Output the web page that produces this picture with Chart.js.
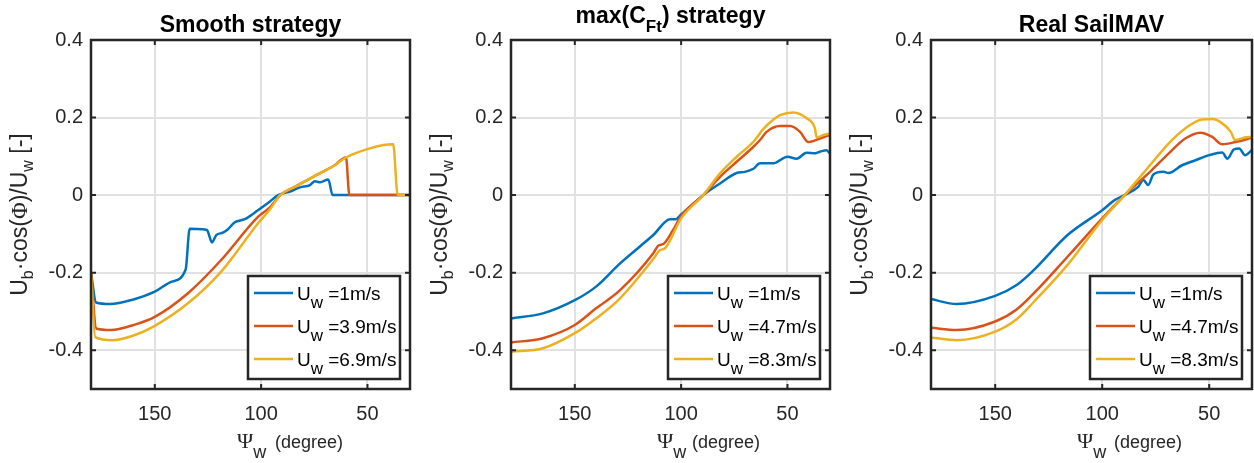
<!DOCTYPE html>
<html>
<head>
<meta charset="utf-8">
<script src="https://cdn.jsdelivr.net/npm/chart.js@4.4.1/dist/chart.umd.min.js"></script>
<style>
  body { margin: 0; background: #fff; }
  canvas { position: absolute; top: 0; }
</style>
</head>
<body>
<canvas id="c1" width="420" height="463" style="left:0px"></canvas>
<canvas id="c2" width="414" height="463" style="left:420px"></canvas>
<canvas id="c3" width="420" height="463" style="left:834px"></canvas>
<script>
// ---- data ----
var xTicks = [150, 100, 50];
var yTicks = [-0.4, -0.2, 0, 0.2, 0.4];

// Smooth strategy
var smoothBlueX = [180, 177.6, 171, 160, 150, 142, 135.5, 133.6, 128, 125.5, 123.1, 121.1, 118, 115.6, 112.4, 107.7, 101.5, 96, 92, 86, 81.7, 77, 74.7, 72.3, 68.4, 66.4, 30];
var smoothBlueY = [-0.2, -0.277, -0.281, -0.269, -0.249, -0.223, -0.192, -0.087, -0.088, -0.090, -0.122, -0.103, -0.097, -0.088, -0.070, -0.062, -0.039, -0.017, 0, 0.010, 0.020, 0.026, 0.036, 0.033, 0.040, 0, 0];
var smoothRedX = [180, 177.5, 170.6, 160, 150, 134.4, 118.9, 101.5, 96, 91, 84, 73.9, 66, 60.1, 58.5, 30];
var smoothRedY = [-0.2, -0.344, -0.348, -0.335, -0.314, -0.253, -0.168, -0.056, -0.032, 0, 0.022, 0.052, 0.075, 0.097, 0, 0];
var smoothYellowX = [180, 178, 169.7, 160, 150, 134.4, 118.9, 101.5, 96, 91, 84, 73.9, 66, 60.1, 50.4, 42.5, 37.9, 35.8, 30];
var smoothYellowY = [-0.2, -0.366, -0.374, -0.362, -0.337, -0.279, -0.198, -0.073, -0.038, 0, 0.022, 0.052, 0.075, 0.097, 0.118, 0.129, 0.131, 0, 0];

// max(C_Ft) strategy
var maxBlueX = [180, 165, 150, 140, 128.7, 113.1, 105.2, 102.5, 100, 89.6, 81.7, 73.9, 70, 66, 62.9, 56.7, 50, 45.7, 41, 37, 34.7, 31.6, 30];
var maxBlueY = [-0.318, -0.305, -0.271, -0.236, -0.176, -0.103, -0.062, -0.062, -0.050, 0, 0.030, 0.057, 0.060, 0.068, 0.082, 0.082, 0.099, 0.094, 0.109, 0.108, 0.112, 0.116, 0.107];
var maxRedX = [180, 165, 150, 140, 128.7, 113.1, 110.7, 108.4, 104, 100, 89.6, 81.7, 73.9, 66.1, 62.9, 59.8, 53.5, 48.8, 44.1, 40.2, 34.7, 30];
var maxRedY = [-0.380, -0.369, -0.335, -0.292, -0.245, -0.150, -0.130, -0.126, -0.092, -0.054, 0, 0.047, 0.086, 0.124, 0.142, 0.163, 0.178, 0.178, 0.163, 0.137, 0.146, 0.155];
var maxYellowX = [180, 165, 150, 140, 128.7, 113.1, 110, 107.6, 100, 89.6, 81.7, 73.9, 66.1, 61.4, 57, 53.5, 47.3, 41, 37.1, 36.3, 33.1, 30];
var maxYellowY = [-0.404, -0.395, -0.356, -0.318, -0.266, -0.165, -0.142, -0.137, -0.060, 0, 0.056, 0.099, 0.137, 0.170, 0.193, 0.206, 0.213, 0.198, 0.172, 0.149, 0.155, 0.159];

// Real SailMAV
var realBlueX = [180, 168, 150, 140, 131.9, 116.2, 100, 94.2, 89.5, 83.2, 80.8, 78.5, 76.1, 71.4, 69, 62.7, 56.4, 50, 43.9, 41.5, 38.4, 36, 33.2, 30];
var realBlueY = [-0.268, -0.281, -0.260, -0.232, -0.193, -0.103, -0.039, -0.013, 0, 0.021, 0.039, 0.026, 0.053, 0.060, 0.057, 0.077, 0.090, 0.103, 0.110, 0.094, 0.118, 0.120, 0.103, 0.116];
var realRedX = [180, 168, 150, 140, 131.9, 116.2, 100, 89.5, 76.9, 69, 61.2, 54.1, 48.6, 43.9, 37.6, 30];
var realRedY = [-0.342, -0.348, -0.326, -0.295, -0.253, -0.159, -0.060, 0, 0.064, 0.107, 0.146, 0.161, 0.150, 0.131, 0.137, 0.148];
var realYellowX = [180, 168, 150, 140, 131.9, 116.2, 100, 89.5, 76.9, 69, 61.2, 53.3, 48.6, 43.9, 39.9, 37.9, 32.9, 30];
var realYellowY = [-0.367, -0.374, -0.352, -0.320, -0.275, -0.180, -0.064, 0, 0.082, 0.133, 0.172, 0.195, 0.196, 0.185, 0.163, 0.142, 0.149, 0.150];

var smoothLabels = ['=1m/s', '=3.9m/s', '=6.9m/s'];
var otherLabels = ['=1m/s', '=4.7m/s', '=8.3m/s'];

var COLORS = ['#0072BD', '#D95319', '#EDB120'];
var AXIS = '#262626';
var SANS = '"Liberation Sans", Arial, Helvetica, sans-serif';
var SERIF = '"Liberation Serif", "Times New Roman", serif';

function pts(xs, ys) {
    return xs.map(function (x, i) { return { x: x, y: ys[i] }; });
}

function richWidth(ctx, parts) {
    var w = 0;
    parts.forEach(function (p) { ctx.font = p.f; w += ctx.measureText(p.t).width; });
    return w;
}

function drawRich(ctx, parts, x, y) {
    parts.forEach(function (p) {
        ctx.font = p.f;
        ctx.fillText(p.t, x, y + (p.dy || 0));
        x += ctx.measureText(p.t).width;
    });
}

// frame, inward ticks, legend, title and axis labels (MATLAB look)
function decoPlugin(cfg) {
    return {
        id: 'deco',
        afterDraw: function (chart) {
            var ctx = chart.ctx;
            var a = chart.chartArea;
            var xs = chart.scales.x, ys = chart.scales.y;
            ctx.save();

            // inward ticks
            ctx.strokeStyle = AXIS;
            ctx.lineWidth = 2;
            ctx.beginPath();
            yTicks.forEach(function (v) {
                var py = ys.getPixelForValue(v);
                ctx.moveTo(a.left, py); ctx.lineTo(a.left + 5, py);
                ctx.moveTo(a.right, py); ctx.lineTo(a.right - 5, py);
            });
            xTicks.forEach(function (v) {
                var px = xs.getPixelForValue(v);
                ctx.moveTo(px, a.bottom); ctx.lineTo(px, a.bottom - 5);
                ctx.moveTo(px, a.top); ctx.lineTo(px, a.top + 5);
            });
            ctx.stroke();
            ctx.lineWidth = 2.5;
            ctx.strokeRect(a.left, a.top, a.right - a.left, a.bottom - a.top);

            // legend
            var lw = 152, lh = 103;
            var lx = a.right - 10 - lw, ly = a.top + 236;
            ctx.fillStyle = '#fff';
            ctx.fillRect(lx, ly, lw, lh);
            ctx.lineWidth = 2.5;
            ctx.strokeStyle = AXIS;
            ctx.strokeRect(lx, ly, lw, lh);
            cfg.labels.forEach(function (lab, i) {
                var ry = ly + 17 + i * 33;
                ctx.strokeStyle = COLORS[i];
                ctx.lineWidth = 2.5;
                ctx.beginPath();
                ctx.moveTo(lx + 6, ry); ctx.lineTo(lx + 45, ry);
                ctx.stroke();
                ctx.fillStyle = '#000';
                ctx.textAlign = 'left';
                ctx.textBaseline = 'alphabetic';
                drawRich(ctx, [
                    { t: 'U', f: '19px ' + SANS },
                    { t: 'w', f: '17px ' + SANS, dy: 8 },
                    { t: ' ' + lab, f: '19px ' + SANS }
                ], lx + 49, ry + 7);
            });

            // title
            ctx.fillStyle = '#000';
            ctx.textAlign = 'left';
            ctx.textBaseline = 'alphabetic';
            var tw = richWidth(ctx, cfg.title);
            drawRich(ctx, cfg.title, (a.left + a.right) / 2 - tw / 2, cfg.titleY);

            // x label
            ctx.fillStyle = AXIS;
            drawRich(ctx, [
                { t: '\u03A8', f: '22px ' + SERIF },
                { t: 'w', f: '18px ' + SANS, dy: 10 }
            ], a.left + 146, 448);
            ctx.font = '18px ' + SANS;
            ctx.fillText('(degree)', a.left + cfg.degGap, 448);

            // y label (rotated)
            var yl = [
                { t: 'U', f: '23px ' + SANS },
                { t: 'b', f: '16px ' + SANS, dy: 6 },
                { t: '\u00B7cos(', f: '23px ' + SANS },
                { t: '\u03A6', f: '23px ' + SERIF },
                { t: ')/U', f: '23px ' + SANS },
                { t: 'w', f: '16px ' + SANS, dy: 6 },
                { t: ' [-]', f: '23px ' + SANS }
            ];
            var yw = richWidth(ctx, yl);
            ctx.translate(a.left - 64, (a.top + a.bottom) / 2);
            ctx.rotate(-Math.PI / 2);
            drawRich(ctx, yl, -yw / 2, 0);

            ctx.restore();
        }
    };
}

function makeChart(id, cfg) {
    var sets = cfg.series.map(function (s, i) {
        return {
            data: pts(s[0], s[1]),
            borderColor: COLORS[i],
            borderWidth: 2.5,
            pointRadius: 0,
            fill: false,
            order: 3 - i,   // later series drawn on top, as in MATLAB
            cubicInterpolationMode: 'monotone'
        };
    });
    return new Chart(document.getElementById(id), {
        type: 'line',
        data: { datasets: sets },
        options: {
            responsive: false,
            animation: false,
            layout: { padding: { top: 40, right: cfg.padRight, left: 0, bottom: 0 } },
            plugins: { legend: { display: false }, tooltip: { enabled: false } },
            scales: {
                x: {
                    type: 'linear', reverse: true, min: 30, max: 180,
                    afterBuildTicks: function (s) { s.ticks = xTicks.map(function (v) { return { value: v }; }); },
                    afterFit: function (s) { s.height = 74; },
                    grid: { color: '#e1e1e1', lineWidth: 2, drawTicks: false },
                    border: { display: false },
                    ticks: { font: { size: 20, family: SANS }, color: AXIS, padding: 13, maxRotation: 0 }
                },
                y: {
                    type: 'linear', min: -0.5, max: 0.4,
                    afterBuildTicks: function (s) { s.ticks = yTicks.map(function (v) { return { value: v }; }); },
                    afterFit: function (s) { s.width = cfg.plotLeft; },
                    grid: { color: '#e1e1e1', lineWidth: 2, drawTicks: false },
                    border: { display: false },
                    ticks: {
                        font: { size: 20, family: SANS }, color: AXIS, padding: 8,
                        callback: function (v) { return String(Math.round(v * 10) / 10); }
                    }
                }
            }
        },
        plugins: [decoPlugin(cfg)]
    });
}

makeChart('c1', {
    plotLeft: 91, padRight: 10, degGap: 184, titleY: 32,
    title: [{ t: 'Smooth strategy', f: 'bold 23px ' + SANS }],
    labels: smoothLabels,
    series: [[smoothBlueX, smoothBlueY], [smoothRedX, smoothRedY], [smoothYellowX, smoothYellowY]]
});
makeChart('c2', {
    plotLeft: 91, padRight: 4, degGap: 181, titleY: 23,
    title: [
        { t: 'max(C', f: 'bold 23px ' + SANS },
        { t: 'Ft', f: 'bold 17px ' + SANS, dy: 9 },
        { t: ') strategy', f: 'bold 23px ' + SANS }
    ],
    labels: otherLabels,
    series: [[maxBlueX, maxBlueY], [maxRedX, maxRedY], [maxYellowX, maxYellowY]]
});
makeChart('c3', {
    plotLeft: 97, padRight: 2, degGap: 183, titleY: 32,
    title: [{ t: 'Real SailMAV', f: 'bold 23px ' + SANS }],
    labels: otherLabels,
    series: [[realBlueX, realBlueY], [realRedX, realRedY], [realYellowX, realYellowY]]
});
</script>
</body>
</html>
